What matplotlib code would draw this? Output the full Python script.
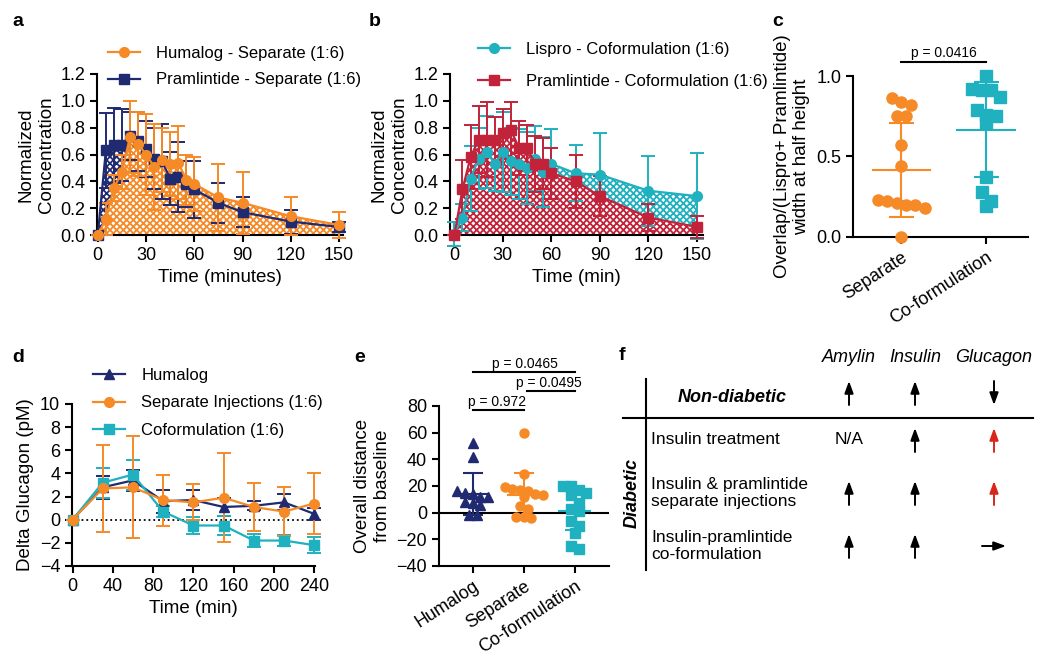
import numpy as np
import matplotlib
matplotlib.use("Agg")
import matplotlib.pyplot as plt

plt.rcParams['font.family'] = ['Liberation Sans', 'DejaVu Sans']
plt.rcParams['hatch.linewidth'] = 1.3

ORANGE = '#F58A27'
NAVY = '#1F2A70'
TEAL = '#1FB1BF'
RED = '#C2233A'

# ---- panel a: separate injections ----
t_pk = [0, 5, 10, 15, 20, 25, 30, 35, 40, 45, 50, 55, 60, 75, 90, 120, 150]
huma_sep = [0.0, 0.12, 0.35, 0.47, 0.73, 0.68, 0.60, 0.51, 0.56, 0.53, 0.54, 0.41, 0.38, 0.28, 0.24, 0.14, 0.075]
huma_sep_sd = [0.0, 0.12, 0.10, 0.13, 0.27, 0.24, 0.30, 0.32, 0.24, 0.24, 0.27, 0.19, 0.20, 0.25, 0.23, 0.14, 0.095]
pram_sep = [0.0, 0.63, 0.67, 0.67, 0.74, 0.70, 0.64, 0.57, 0.55, 0.42, 0.43, 0.38, 0.34, 0.24, 0.17, 0.10, 0.06]
pram_sep_sd = [0.0, 0.28, 0.28, 0.27, 0.18, 0.22, 0.21, 0.23, 0.28, 0.20, 0.26, 0.17, 0.21, 0.15, 0.11, 0.09, 0.04]

# ---- panel b: co-formulation ----
lispro_co = [0.01, 0.13, 0.42, 0.57, 0.62, 0.53, 0.62, 0.55, 0.53, 0.50, 0.57, 0.47, 0.53, 0.46, 0.45, 0.33, 0.29]
lispro_co_sd = [0.09, 0.10, 0.24, 0.23, 0.27, 0.20, 0.30, 0.25, 0.26, 0.27, 0.24, 0.26, 0.26, 0.21, 0.31, 0.26, 0.32]
pram_co = [0.0, 0.34, 0.58, 0.71, 0.71, 0.71, 0.76, 0.78, 0.65, 0.65, 0.53, 0.53, 0.46, 0.40, 0.29, 0.13, 0.06]
pram_co_sd = [0.0, 0.22, 0.24, 0.25, 0.28, 0.17, 0.18, 0.21, 0.20, 0.17, 0.21, 0.19, 0.19, 0.20, 0.15, 0.10, 0.08]

# ---- panel c: overlap ----
overlap_groups = ['Separate', 'Co-formulation']
overlap_sep = [0.86, 0.84, 0.82, 0.75, 0.75, 0.57, 0.44, 0.23, 0.22, 0.21, 0.20, 0.20, 0.18, 0.0]
overlap_co = [1.0, 0.92, 0.91, 0.91, 0.87, 0.79, 0.76, 0.75, 0.71, 0.37, 0.28, 0.22, 0.19]
overlap_mean = [0.415, 0.667]
overlap_sd = [0.295, 0.295]

# ---- panel d: glucagon ----
t_gluc = [0, 30, 60, 90, 120, 150, 180, 210, 240]
gluc_huma = [0, 2.8, 3.4, 1.6, 1.7, 1.1, 1.2, 1.5, 0.5]
gluc_huma_sd = [0, 1.0, 0.9, 1.0, 0.9, 0.8, 0.4, 0.7, 0.5]
gluc_sep = [0, 2.7, 2.8, 1.7, 1.5, 1.9, 1.1, 0.7, 1.4]
gluc_sep_sd = [0, 3.8, 4.4, 2.2, 1.55, 3.85, 2.1, 2.1, 2.6]
gluc_co = [0, 3.2, 3.9, 0.7, -0.5, -0.5, -1.8, -1.8, -2.2]
gluc_co_sd = [0, 1.3, 1.3, 0.5, 0.7, 0.8, 0.6, 0.5, 0.7]

# ---- panel e: distance from baseline ----
dist_groups = ['Humalog', 'Separate', 'Co-formulation']
dist_huma = [52, 42, 16, 15, 14, 12, 12, 8, 7, 6, -2, -2]
dist_sep = [60, 29, 19, 18, 17, 16, 14, 13, 12, 5, 3, -3, -4, -3]
dist_co = [20, 20, 17, 15, 13, 7, 3, 1, -6, -10, -15, -25, -27]
dist_mean = [14, 13, 1.5]
dist_sd = [15.5, 17, 14.5]

# ---- panel f: summary table ----
hormones = ['Amylin', 'Insulin', 'Glucagon']
diabetic_rows = ['Insulin treatment', 'Insulin & pramlintide\nseparate injections',
                 'Insulin-pramlintide\nco-formulation']
nondiab_arrows = ['up', 'up', 'down']
diab_arrows = [['N/A', 'up', 'up'], ['up', 'up', 'up'], ['up', 'up', 'right']]
diab_colors = [['k', 'k', '#D9261C'], ['k', 'k', '#D9261C'], ['k', 'k', 'k']]

W, H = 1050, 666
fig = plt.figure(figsize=(W / 100, H / 100), dpi=100)


def box(l, t, r, b):
    return [l / W, 1 - b / H, (r - l) / W, (b - t) / H]


def style(ax):
    for s in ['top', 'right']:
        ax.spines[s].set_visible(False)
    for s in ['left', 'bottom']:
        ax.spines[s].set_linewidth(1.5)
    ax.tick_params(width=1.5, length=5, labelsize=13)


def series(ax, x, y, sd, color, marker, ms=7, label=None):
    ax.errorbar(x, y, yerr=sd, fmt='none', ecolor=color, elinewidth=1.4,
                capsize=5, capthick=1.4, clip_on=False, zorder=3)
    ln, = ax.plot(x, y, color=color, marker=marker, ms=ms, lw=1.6,
                  clip_on=False, zorder=4, label=label)
    return ln


def swarm(ax, xc, vals, diam):
    # bin points by height (pixel space) and centre each row on the category
    x0 = ax.transData.transform((0, 0))[0]
    px_unit = ax.transData.transform((1, 0))[0] - x0
    ypix = [ax.transData.transform((0, v))[1] for v in vals]
    order = sorted(range(len(vals)), key=lambda i: -ypix[i])
    rows = []
    for i in order:
        if rows and rows[-1][0] - ypix[i] < diam:
            rows[-1][1].append(i)
        else:
            rows.append((ypix[i], [i]))
    xs = [0.0] * len(vals)
    for _, idx in rows:
        n = len(idx)
        for k, i in enumerate(idx):
            xs[i] = xc + (k - (n - 1) / 2) * diam * 0.85 / px_unit
    return xs


# panel a
ax = fig.add_axes(box(97, 74, 343, 235))
style(ax)
ax.fill_between(t_pk, pram_sep, 0, facecolor='white', edgecolor=NAVY,
                hatch='xxxxx', lw=0, zorder=1)
ax.fill_between(t_pk, huma_sep, 0, facecolor='white', edgecolor=ORANGE,
                hatch='xxxxx', lw=0, zorder=2)
series(ax, t_pk, pram_sep, pram_sep_sd, NAVY, 's', label='Pramlintide - Separate (1:6)')
series(ax, t_pk, huma_sep, huma_sep_sd, ORANGE, 'o', label='Humalog - Separate (1:6)')
ax.set_xlim(-0.5, 152.5)
ax.set_ylim(0, 1.2)
ax.set_xticks(range(0, 151, 30))
ax.set_yticks(np.arange(0, 1.21, 0.2))
ax.yaxis.set_major_formatter('{x:.1f}')
ax.set_xlabel('Time (minutes)', fontsize=13.5)
ax.set_ylabel('Normalized\nConcentration', fontsize=13.5, labelpad=4)
h, l = ax.get_legend_handles_labels()
ax.legend(h[::-1], l[::-1], loc='upper left', bbox_to_anchor=(108 / W, 1 - 46 / H),
          bbox_transform=fig.transFigure, frameon=False, fontsize=12,
          handlelength=1.9, handletextpad=1.0, borderpad=0, labelspacing=0.68,
          borderaxespad=0)

# panel b
ax = fig.add_axes(box(450, 74, 703, 235))
style(ax)
ax.fill_between(t_pk, lispro_co, 0, facecolor='white', edgecolor=TEAL,
                hatch='xxxxx', lw=0, zorder=1)
ax.fill_between(t_pk, pram_co, 0, facecolor='white', edgecolor=RED,
                hatch='xxxxx', lw=0, zorder=2)
series(ax, t_pk, lispro_co, lispro_co_sd, TEAL, 'o', label='Lispro - Coformulation (1:6)')
series(ax, t_pk, pram_co, pram_co_sd, RED, 's', label='Pramlintide - Coformulation (1:6)')
ax.set_xlim(-2.7, 153.8)
ax.set_ylim(0, 1.2)
ax.set_xticks(range(0, 151, 30))
ax.set_yticks(np.arange(0, 1.21, 0.2))
ax.yaxis.set_major_formatter('{x:.1f}')
ax.set_xlabel('Time (min)', fontsize=13.5)
ax.set_ylabel('Normalized\nConcentration', fontsize=13.5, labelpad=4)
ax.legend(loc='upper left', bbox_to_anchor=(478 / W, 1 - 42 / H),
          bbox_transform=fig.transFigure, frameon=False, fontsize=12,
          handlelength=1.9, handletextpad=1.0, borderpad=0, labelspacing=1.0,
          borderaxespad=0)

# panel c
ax = fig.add_axes(box(853, 76, 1028, 236.7))
style(ax)
ax.set_xlim(-0.57, 1.49)
ax.set_ylim(0, 1.0)
for i, (vals, col, mk) in enumerate([(overlap_sep, ORANGE, 'o'), (overlap_co, TEAL, 's')]):
    xs = swarm(ax, i, vals, 11)
    ax.plot(xs, vals, ls='none', marker=mk, ms=8, color=col, clip_on=False, zorder=3)
    m, s = overlap_mean[i], overlap_sd[i]
    ax.plot([i - 0.34, i + 0.34], [m, m], color=col, lw=1.5, zorder=4)
    ax.errorbar([i], [m], yerr=[s], fmt='none', ecolor=col, elinewidth=1.5,
                capsize=9, capthick=1.5, zorder=4, clip_on=False)
ax.set_xticks([0, 1])
ax.set_xticklabels(overlap_groups, rotation=33, ha='right', rotation_mode='anchor')
ax.set_yticks([0, 0.5, 1.0])
ax.yaxis.set_major_formatter('{x:.1f}')
ax.set_ylabel('Overlap/(Lispro+ Pramlintide)\nwidth at half height', fontsize=13.5)
ax.plot([0, 1], [1.09, 1.09], color='k', lw=1.5, clip_on=False)
ax.text(0.5, 1.1, 'p = 0.0416', ha='center', va='bottom', fontsize=10)

# panel d
ax = fig.add_axes(box(72, 404, 315, 566))
style(ax)
ax.axhline(0, color='k', ls=':', lw=1.3, zorder=1)
series(ax, t_gluc, gluc_huma, gluc_huma_sd, NAVY, '^', label='Humalog')
series(ax, t_gluc, gluc_co, gluc_co_sd, TEAL, 's', label='Coformulation (1:6)')
series(ax, t_gluc, gluc_sep, gluc_sep_sd, ORANGE, 'o', label='Separate Injections (1:6)')
ax.set_xlim(-0.5, 240.7)
ax.set_ylim(-4, 10)
ax.set_xticks(range(0, 241, 40))
ax.set_yticks(range(-4, 11, 2))
ax.set_xlabel('Time (min)', fontsize=13.5)
ax.set_ylabel('Delta Glucagon (pM)', fontsize=13.5)
h, l = ax.get_legend_handles_labels()
ax.legend([h[0], h[2], h[1]], [l[0], l[2], l[1]], loc='upper left',
          bbox_to_anchor=(93 / W, 1 - 368 / H), bbox_transform=fig.transFigure,
          frameon=False, fontsize=12, handlelength=1.9, handletextpad=1.0,
          borderpad=0, labelspacing=0.75, borderaxespad=0)

# panel e
ax = fig.add_axes(box(439, 406, 609, 566))
style(ax)
ax.set_xlim(-0.66, 2.67)
ax.set_ylim(-40, 80)
ax.axhline(0, color='k', lw=1.5, zorder=1)
for i, (vals, col, mk) in enumerate([(dist_huma, NAVY, '^'), (dist_sep, ORANGE, 'o'),
                                      (dist_co, TEAL, 's')]):
    xs = swarm(ax, i, vals, 9)
    ax.plot(xs, vals, ls='none', marker=mk, ms=6.5, color=col, clip_on=False, zorder=3)
    m, s = dist_mean[i], dist_sd[i]
    ax.plot([i - 0.3, i + 0.3], [m, m], color=col, lw=1.5, zorder=4)
    ax.errorbar([i], [m], yerr=[s], fmt='none', ecolor=col, elinewidth=1.5,
                capsize=7, capthick=1.5, zorder=4)
ax.set_xticks([0, 1, 2])
ax.set_xticklabels(dist_groups, rotation=33, ha='right', rotation_mode='anchor')
ax.set_yticks(range(-40, 81, 20))
ax.set_ylabel('Overall distance\nfrom baseline', fontsize=13.5)
for (x1, x2, y, tx, lab) in [(0, 1, 77, 0.47, 'p = 0.972'), (1.07, 2, 91.3, 1.5, 'p = 0.0495'),
                             (0, 2, 105.3, 1.03, 'p = 0.0465')]:
    ax.plot([x1, x2], [y, y], color='k', lw=1.5, clip_on=False)
    ax.text(tx, y + 1, lab, ha='center', va='bottom', fontsize=10)

# panel f (drawn in figure pixel coordinates)
af = fig.add_axes([0, 0, 1, 1], zorder=-1)
af.set_xlim(0, W)
af.set_ylim(H, 0)
af.axis('off')
col_x = [849, 915, 994]
for hx, name in zip(col_x, hormones):
    af.text(hx, 358, name, ha='center', va='center', fontsize=13, style='italic')
af.plot([645.7, 645.7], [379, 570], color='k', lw=1.5)
af.plot([623, 1033], [418.3, 418.3], color='k', lw=1.5)
af.text(731.7, 397, 'Non-diabetic', ha='center', va='center', fontsize=13,
        style='italic', weight='bold')
af.text(632, 493, 'Diabetic', ha='center', va='center', fontsize=13,
        style='italic', weight='bold', rotation=90)


def arrow(x, y, kind, color):
    if kind == 'N/A':
        af.text(x, y, 'N/A', ha='center', va='center', fontsize=12.5, color=color)
        return
    d = {'up': ((0, 12), (0, -12)), 'down': ((0, -12), (0, 12)), 'right': ((12, 0), (-12, 0))}[kind]
    af.annotate('', xy=(x + d[0][0], y - d[0][1]), xytext=(x + d[1][0], y - d[1][1]),
                arrowprops=dict(arrowstyle='-|>,head_length=0.6,head_width=0.22',
                                color=color, lw=1.4, mutation_scale=12, shrinkA=0, shrinkB=0))


for hx, kind in zip(col_x, nondiab_arrows):
    arrow(hx, 393, kind, 'k')
row_y = [440, 493, 546]
for ry, lab, kinds, cols in zip(row_y, diabetic_rows, diab_arrows, diab_colors):
    af.text(651, ry, lab, ha='left', va='center', fontsize=12.5, linespacing=1.2)
    for hx, kind, c in zip(col_x, kinds, cols):
        arrow(hx, ry, kind, c)

# panel letters
for x, y, s in [(18, 22, 'a'), (375, 22, 'b'), (778, 22, 'c'), (18, 357, 'd'),
                (360, 357, 'e'), (622, 355, 'f')]:
    af.text(x, y, s, ha='center', va='center', fontsize=14, weight='bold')

fig.savefig('out.png', dpi=100)
